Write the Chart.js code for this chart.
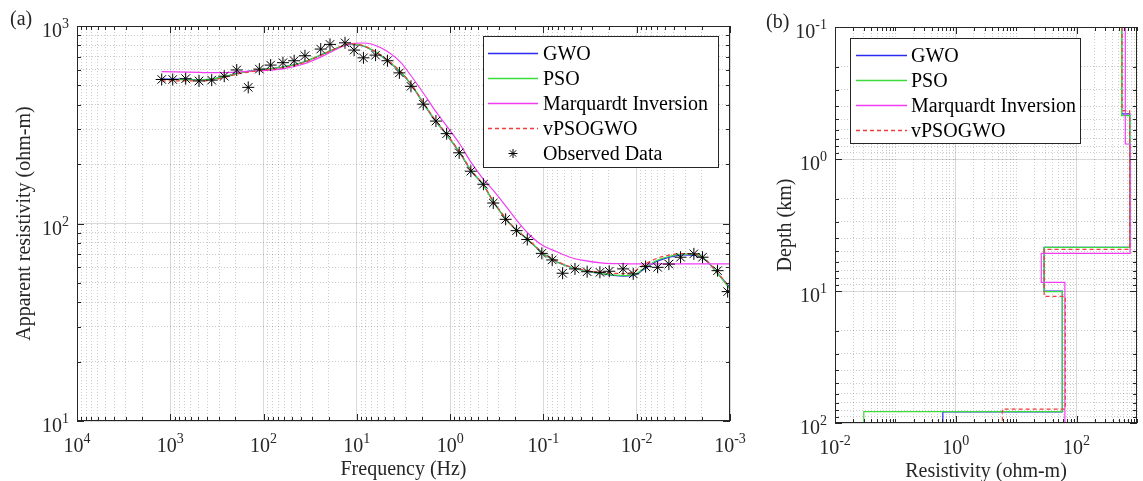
<!DOCTYPE html>
<html>
<head>
<meta charset="utf-8">
<script src="https://cdn.jsdelivr.net/npm/chart.js@4.4.1/dist/chart.umd.min.js"></script>
<style>
  html, body { margin: 0; padding: 0; background: #fff; }
  #wrap { position: relative; width: 1143px; height: 481px; }
  #chartA { position: absolute; left: 0; top: 0; }
  #chartB { position: absolute; left: 760px; top: 0; }
</style>
</head>
<body>
<div id="wrap">
  <canvas id="chartA" width="760" height="481"></canvas>
  <canvas id="chartB" width="383" height="481"></canvas>
</div>
<script>
// ---- (a) apparent resistivity vs frequency ----
const obsFreq = [1236, 942, 684, 492, 360, 264, 194, 146, 111, 84, 62, 47, 36, 24.4, 19.4, 13.4, 10.7, 8.5, 6.3, 4.7,
  3.5, 2.63, 1.94, 1.42, 1.09, 0.80, 0.60, 0.44, 0.345, 0.254, 0.194, 0.149, 0.104, 0.0805, 0.0623, 0.0459, 0.034,
  0.0248, 0.0197, 0.014, 0.0109, 0.00803, 0.00597, 0.00452, 0.00339, 0.00244, 0.00197, 0.00136, 0.00106];
const obsRho = [536, 536, 541, 527, 532, 557, 599, 489, 605, 634, 652, 667, 707, 764, 807, 822, 755, 690, 712, 667,
  579, 495, 402, 330, 285, 228, 184, 158, 127, 105, 92, 83, 70.6, 65.4, 56.0, 58.9, 57.0,
  56.6, 57.3, 58.9, 55.6, 60.5, 60.0, 62.3, 67.5, 70.2, 67.5, 57.7, 45.2];

const modelFreq = [1236, 481, 360, 259, 194, 109, 62, 37.8, 23.1, 14.5, 11.9, 8.6, 5.66, 3.45, 2.59, 1.94, 1.46, 1.09,
  0.785, 0.589, 0.442, 0.345, 0.248, 0.194, 0.1455, 0.1045, 0.0722, 0.052, 0.0374, 0.0229, 0.01396, 0.0109,
  0.00852, 0.00612, 0.0044, 0.00318, 0.00228, 0.00178, 0.00139, 0.001];
const gwoRho = [540, 535, 538, 555, 576, 600, 619, 655, 720, 790, 808, 792, 714, 588, 502, 406, 334, 281,
  227, 183, 157, 129, 104, 92.5, 82.5, 71.5, 64, 60.2, 57.8, 55.5, 54.2, 54.5, 58.3, 64.2, 67.6, 69.4, 68.8,
  64.5, 56.6, 47.5];
const psoRho = [536, 533, 538, 555, 575, 600, 620, 655, 722, 792, 810, 795, 715, 590, 503, 407, 335, 282,
  228, 184, 157, 129, 104, 92.5, 82.5, 71.5, 64, 60.2, 57.8, 55.6, 54.5, 54.9, 58.9, 64.9, 68.2, 70.1, 69.3,
  64.9, 56.6, 46.5];
const marqRho = [588, 582, 580, 581, 584, 594, 607, 640, 705, 785, 812, 820, 780, 660, 555, 458, 375, 312,
  252, 202, 168, 147, 121, 104, 89, 78, 72, 67.5, 65, 63, 62.6, 62.5, 62.4, 62.4, 62.4, 62.4, 62.4,
  62.4, 62.4, 62.4];
const vpsoRho = [528, 527, 532, 550, 570, 595, 615, 650, 718, 790, 812, 796, 718, 592, 505, 410, 337, 284,
  229, 185, 158, 130, 105, 93, 83, 72, 64.5, 60.5, 58.3, 56.5, 55.8, 57.0, 61.5, 66.5, 69.3, 70.5, 69.5,
  65, 57, 47.5];

const freqExps = [4, 3, 2, 1, 0, -1, -2, -3];
const rhoExps = [1, 2, 3];

// ---- (b) layered resistivity models: layer resistivities and layer-bottom depths (km) ----
const gwoRes = [560, 760, 29, 58, 0.61];
const gwoDepth = [0.455, 4.67, 10.0, 82.5];
const psoRes = [555, 765, 29, 58, 0.030];
const psoDepth = [0.47, 4.67, 10.1, 82];
const marqRes = [640, 770, 26, 64];
const marqDepth = [0.77, 5.19, 8.6];
const vpsoRes = [565, 755, 29, 65, 5.9];
const vpsoDepth = [0.43, 4.83, 11.0, 78.4];

const resExps = [-2, 0, 2];
const depthExps = [-1, 0, 1, 2];

const FONT = '"Liberation Serif", "Times New Roman", serif';
const INK = '#262626';
const BLUE = '#2b2bf0', GREEN = '#3cdc3c', MAGENTA = '#f23cf2', RED = '#f03c3c';

function logTickValues(min, max) {
  const out = [];
  for (let e = Math.floor(Math.log10(min)); e <= Math.ceil(Math.log10(max)); e++) {
    for (let k = 1; k <= 9; k++) {
      const v = k * Math.pow(10, e);
      if (v >= min * 0.9999 && v <= max * 1.0001) out.push(v);
    }
  }
  return out;
}

function majorTest(exps) {
  return (v) => {
    const e = Math.log10(v);
    return Math.abs(e - Math.round(e)) < 1e-6 && exps.includes(Math.round(e));
  };
}

function logAxis(min, max, exps, reverse) {
  const isMajor = majorTest(exps);
  return {
    type: 'logarithmic', min, max, reverse,
    afterBuildTicks: (scale) => { scale.ticks = logTickValues(min, max).map(v => ({ value: v })); },
    ticks: { display: false },
    grid: {
      drawTicks: false, lineWidth: 1,
      color: (c) => (c.tick && isMajor(c.tick.value)) ? 'rgba(0,0,0,0.15)' : 'rgba(0,0,0,0.2)',
    },
    border: { display: false, dash: (c) => (c.tick && !isMajor(c.tick.value)) ? [1, 2] : [] },
    title: { display: false },
  };
}

function drawPow(ctx, x, baseline, exp, align) {
  ctx.font = `20px ${FONT}`;
  const w1 = ctx.measureText('10').width;
  ctx.font = `14px ${FONT}`;
  const w2 = ctx.measureText(String(exp)).width;
  const x0 = align === 'center' ? x - (w1 + w2) / 2 : x - w1 - w2;
  ctx.textAlign = 'left';
  ctx.textBaseline = 'alphabetic';
  ctx.fillStyle = INK;
  ctx.font = `20px ${FONT}`;
  ctx.fillText('10', x0, baseline);
  ctx.font = `14px ${FONT}`;
  ctx.fillText(String(exp), x0 + w1, baseline - 9);
}

function seg(ctx, x0, y0, x1, y1) {
  ctx.beginPath(); ctx.moveTo(x0, y0); ctx.lineTo(x1, y1); ctx.stroke();
}

function star(ctx, x, y, r) {
  const d = r * Math.SQRT1_2;
  seg(ctx, x - r, y, x + r, y); seg(ctx, x, y - r, x, y + r);
  seg(ctx, x - d, y - d, x + d, y + d); seg(ctx, x - d, y + d, x + d, y - d);
}

function decor(cfg) {
  const xMajor = majorTest(cfg.xExps), yMajor = majorTest(cfg.yExps);
  return {
    id: 'decor',
    afterDatasetsDraw(chart) {
      const ctx = chart.ctx;
      const { left, right, top, bottom } = chart.chartArea;
      const xs = chart.scales.x, ys = chart.scales.y;
      ctx.save();
      ctx.strokeStyle = INK; ctx.lineWidth = 1; ctx.setLineDash([]);
      ctx.strokeRect(left + 0.5, top + 0.5, right - left - 1, bottom - top - 1);
      xs.ticks.forEach(t => {
        const px = Math.round(xs.getPixelForValue(t.value)) + 0.5;
        const len = xMajor(t.value) ? 7 : 4;
        seg(ctx, px, bottom, px, bottom - len); seg(ctx, px, top, px, top + len);
      });
      ys.ticks.forEach(t => {
        const py = Math.round(ys.getPixelForValue(t.value)) + 0.5;
        const len = yMajor(t.value) ? 7 : 4;
        seg(ctx, left, py, left + len, py); seg(ctx, right, py, right - len, py);
      });
      cfg.xExps.forEach(e => drawPow(ctx, xs.getPixelForValue(Math.pow(10, e)), bottom + 31, e, 'center'));
      cfg.yExps.forEach(e => drawPow(ctx, left - 8, ys.getPixelForValue(Math.pow(10, e)) + 11, e, 'right'));

      ctx.fillStyle = INK;
      ctx.font = `20px ${FONT}`;
      ctx.textAlign = 'center'; ctx.textBaseline = 'alphabetic';
      ctx.fillText(cfg.xTitle, (left + right) / 2, bottom + 54);
      ctx.save();
      ctx.translate(cfg.yTitleX, (top + bottom) / 2);
      ctx.rotate(-Math.PI / 2);
      ctx.fillText(cfg.yTitle, 0, 0);
      ctx.restore();
      ctx.textAlign = 'left';
      ctx.fillText(cfg.tag, cfg.tagX, cfg.tagY);

      // legend box
      const L = cfg.legend;
      ctx.fillStyle = '#fff';
      ctx.fillRect(L.x, L.y, L.w, L.h);
      ctx.strokeStyle = INK;
      ctx.strokeRect(L.x + 0.5, L.y + 0.5, L.w, L.h);
      chart.data.datasets.forEach((ds, i) => {
        const cy = Math.round(L.first + i * L.row) + 0.5;
        if (ds.showLine === false) {
          ctx.strokeStyle = '#000'; ctx.lineWidth = 1;
          star(ctx, (L.x0 + L.x1) / 2, cy, 4.5);
        } else {
          ctx.strokeStyle = ds.borderColor; ctx.lineWidth = 1.3;
          ctx.setLineDash(ds.borderDash || []);
          seg(ctx, L.x0, cy, L.x1, cy);
          ctx.setLineDash([]);
        }
        ctx.fillStyle = '#000';
        ctx.font = `20px ${FONT}`;
        ctx.textAlign = 'left'; ctx.textBaseline = 'middle';
        ctx.fillText(ds.label, L.textX, cy + 1);
      });
      ctx.restore();
    }
  };
}

function curve(label, xs, ys, color, order, dash) {
  return {
    label, data: xs.map((x, i) => ({ x, y: ys[i] })),
    showLine: true, borderColor: color, backgroundColor: color, borderWidth: 1.2,
    borderDash: dash || [], pointRadius: 0, cubicInterpolationMode: 'monotone', order,
  };
}

function profile(label, res, depth, color, order, dash) {
  const pts = [{ x: res[0], y: 0.1 }];
  depth.forEach((d, i) => { pts.push({ x: res[i], y: d }); pts.push({ x: res[i + 1], y: d }); });
  pts.push({ x: res[res.length - 1], y: 100 });
  return {
    label, data: pts, showLine: true, borderColor: color, backgroundColor: color, borderWidth: 1.2,
    borderDash: dash || [], pointRadius: 0, tension: 0, order,
  };
}

const common = {
  responsive: false, animation: false, events: [],
  plugins: { legend: { display: false }, tooltip: { enabled: false } },
};

new Chart(document.getElementById('chartA'), {
  type: 'scatter',
  data: {
    datasets: [
      curve('GWO', modelFreq, gwoRho, BLUE, 4),
      curve('PSO', modelFreq, psoRho, GREEN, 3),
      curve('Marquardt Inversion', modelFreq, marqRho, MAGENTA, 2),
      curve('vPSOGWO', modelFreq, vpsoRho, RED, 1, [4, 3]),
      {
        label: 'Observed Data', data: obsFreq.map((f, i) => ({ x: f, y: obsRho[i] })),
        showLine: false, pointStyle: 'star', pointRadius: 6, borderColor: '#000', backgroundColor: '#000',
        borderWidth: 1, order: 0,
      },
    ]
  },
  options: {
    ...common,
    layout: { padding: { left: 77, right: 30, top: 26, bottom: 60 } },
    scales: {
      x: logAxis(0.001, 10000, freqExps, true),
      y: logAxis(10, 1000, rhoExps, false),
    },
  },
  plugins: [decor({
    xExps: freqExps, yExps: rhoExps, xTitle: 'Frequency (Hz)', yTitle: 'Apparent resistivity (ohm-m)',
    yTitleX: 30, tag: '(a)', tagX: 10, tagY: 25,
    legend: { x: 483, y: 36, w: 235, h: 131, first: 53, row: 25, x0: 488, x1: 538, textX: 543 },
  })],
});

new Chart(document.getElementById('chartB'), {
  type: 'scatter',
  data: {
    datasets: [
      profile('GWO', gwoRes, gwoDepth, BLUE, 4),
      profile('PSO', psoRes, psoDepth, GREEN, 3),
      profile('Marquardt Inversion', marqRes, marqDepth, MAGENTA, 2),
      profile('vPSOGWO', vpsoRes, vpsoDepth, RED, 1, [4, 3]),
    ]
  },
  options: {
    ...common,
    layout: { padding: { left: 75, right: 6, top: 27, bottom: 58 } },
    scales: {
      x: logAxis(0.01, 1000, resExps, false),
      y: logAxis(0.1, 100, depthExps, true),
    },
  },
  plugins: [decor({
    xExps: resExps, yExps: depthExps, xTitle: 'Resistivity (ohm-m)', yTitle: 'Depth (km)',
    yTitleX: 31, tag: '(b)', tagX: 6, tagY: 28,
    legend: { x: 90, y: 38, w: 230, h: 105, first: 55, row: 25, x0: 96, x1: 147, textX: 151 },
  })],
});
</script>
</body>
</html>
